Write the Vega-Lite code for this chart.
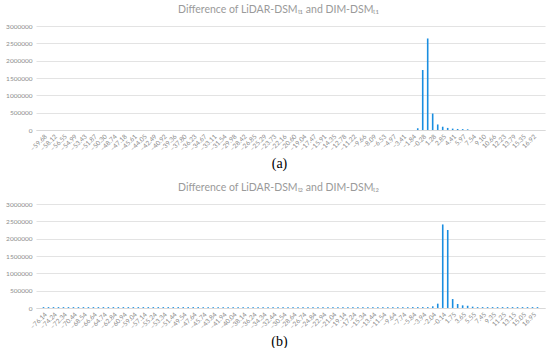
{
  "$schema": "https://vega.github.io/schema/vega-lite/v6.json",
  "background": "white",
  "padding": {"left": 5, "top": 4, "right": 6, "bottom": 0},
  "config": {
    "view": {"stroke": null},
    "concat": {"spacing": 12},
    "axis": {
      "labelFont": "Lato", "labelFontSize": 6.5, "labelColor": "#8c8c8c",
      "ticks": false, "gridColor": "#e3e3e3", "gridWidth": 1,
      "domainColor": "#d9d9d9"
    },
    "title": {"font": "Lato", "fontSize": 10.5, "fontWeight": "normal", "color": "#9a9a9a"}
  },
  "datasets": {
    "a": [
      {"d": -1.06, "n": 50000},
      {"d": -0.28, "n": 1730000},
      {"d": 0.50, "n": 2640000},
      {"d": 1.28, "n": 475000},
      {"d": 2.07, "n": 160000},
      {"d": 2.85, "n": 95000},
      {"d": 3.63, "n": 60000},
      {"d": 4.41, "n": 40000},
      {"d": 5.19, "n": 30000},
      {"d": 5.98, "n": 25000},
      {"d": 6.76, "n": 20000}
    ],
    "b": [
      {"d": -76.14, "n": 25000}, {"d": -75.19, "n": 25000}, {"d": -74.24, "n": 25000}, {"d": -73.29, "n": 25000},
      {"d": -72.34, "n": 25000}, {"d": -71.39, "n": 25000}, {"d": -70.44, "n": 25000}, {"d": -69.49, "n": 25000},
      {"d": -68.54, "n": 25000}, {"d": -67.59, "n": 25000}, {"d": -66.64, "n": 25000}, {"d": -65.69, "n": 25000},
      {"d": -64.74, "n": 25000}, {"d": -63.79, "n": 25000}, {"d": -62.84, "n": 25000}, {"d": -61.89, "n": 25000},
      {"d": -60.94, "n": 25000}, {"d": -59.99, "n": 25000}, {"d": -59.04, "n": 25000}, {"d": -58.09, "n": 25000},
      {"d": -57.14, "n": 25000}, {"d": -56.19, "n": 25000}, {"d": -55.24, "n": 25000}, {"d": -54.29, "n": 25000},
      {"d": -53.34, "n": 25000}, {"d": -52.39, "n": 25000}, {"d": -51.44, "n": 25000}, {"d": -50.49, "n": 25000},
      {"d": -49.54, "n": 25000}, {"d": -48.59, "n": 25000}, {"d": -47.64, "n": 25000}, {"d": -46.69, "n": 25000},
      {"d": -45.74, "n": 25000}, {"d": -44.79, "n": 25000}, {"d": -43.84, "n": 25000}, {"d": -42.89, "n": 25000},
      {"d": -41.94, "n": 25000}, {"d": -40.99, "n": 25000}, {"d": -40.04, "n": 25000}, {"d": -39.09, "n": 25000},
      {"d": -38.14, "n": 25000}, {"d": -37.19, "n": 25000}, {"d": -36.24, "n": 25000}, {"d": -35.29, "n": 25000},
      {"d": -34.34, "n": 25000}, {"d": -33.39, "n": 25000}, {"d": -32.44, "n": 25000}, {"d": -31.49, "n": 25000},
      {"d": -30.54, "n": 25000}, {"d": -29.59, "n": 25000}, {"d": -28.64, "n": 25000}, {"d": -27.69, "n": 25000},
      {"d": -26.74, "n": 25000}, {"d": -25.79, "n": 25000}, {"d": -24.84, "n": 25000}, {"d": -23.89, "n": 25000},
      {"d": -22.94, "n": 25000}, {"d": -21.99, "n": 25000}, {"d": -21.04, "n": 25000}, {"d": -20.09, "n": 25000},
      {"d": -19.14, "n": 25000}, {"d": -18.19, "n": 25000}, {"d": -17.24, "n": 25000}, {"d": -16.29, "n": 25000},
      {"d": -15.34, "n": 25000}, {"d": -14.39, "n": 25000}, {"d": -13.44, "n": 25000}, {"d": -12.49, "n": 25000},
      {"d": -11.54, "n": 25000}, {"d": -10.59, "n": 25000}, {"d": -9.64, "n": 25000}, {"d": -8.69, "n": 25000},
      {"d": -7.74, "n": 25000}, {"d": -6.79, "n": 25000}, {"d": -5.84, "n": 25000}, {"d": -4.89, "n": 25000},
      {"d": -3.94, "n": 25000}, {"d": -2.99, "n": 25000}, {"d": -2.04, "n": 48000}, {"d": -1.09, "n": 125000},
      {"d": -0.14, "n": 2410000}, {"d": 0.81, "n": 2250000}, {"d": 1.75, "n": 258000}, {"d": 2.70, "n": 115000},
      {"d": 3.65, "n": 76000}, {"d": 4.60, "n": 65000}, {"d": 5.55, "n": 38000}, {"d": 6.50, "n": 25000},
      {"d": 7.45, "n": 25000}, {"d": 8.40, "n": 25000}, {"d": 9.35, "n": 25000}, {"d": 10.30, "n": 25000},
      {"d": 11.25, "n": 25000}, {"d": 12.20, "n": 25000}, {"d": 13.15, "n": 25000}, {"d": 14.10, "n": 25000},
      {"d": 15.05, "n": 25000}, {"d": 16.00, "n": 25000}, {"d": 16.95, "n": 25000}, {"d": 17.90, "n": 25000}
    ]
  },
  "vconcat": [
    {
      "width": 509, "height": 104,
      "data": {"name": "a"},
      "title": {"text": "Difference of LiDAR-DSMₜ₁ and DIM-DSMₜ₁", "anchor": "middle", "dx": -12, "offset": 8},
      "mark": {"type": "bar", "size": 1.6, "color": "#1a8ee0"},
      "encoding": {
        "x": {
          "field": "d", "type": "quantitative",
          "scale": {"domain": [-60.07, 18.09], "nice": false, "zero": false},
          "axis": {
            "title": "(a)", "titleFont": "Liberation Serif", "titleFontSize": 14, "titleFontWeight": "normal",
            "titleColor": "#000000", "titleX": 243, "titleY": 37, "titleBaseline": "alphabetic",
            "grid": false, "labelAngle": -45, "labelOverlap": false, "labelFlush": false, "format": ".2f", "labelPadding": 3,
            "values": [-59.68, -58.12, -56.55, -54.99, -53.43, -51.87, -50.30, -48.74, -47.18, -45.61, -44.05, -42.49, -40.92, -39.36, -37.80, -36.23, -34.67, -33.11, -31.54, -29.98, -28.42, -26.85, -25.29, -23.73, -22.16, -20.60, -19.04, -17.47, -15.91, -14.35, -12.78, -11.22, -9.66, -8.09, -6.53, -4.97, -3.41, -1.84, -0.28, 1.28, 2.85, 4.41, 5.97, 7.54, 9.10, 10.66, 12.23, 13.79, 15.35, 16.92]
          }
        },
        "y": {
          "field": "n", "type": "quantitative",
          "scale": {"domain": [0, 3000000], "nice": false},
          "axis": {"title": null, "values": [0, 500000, 1000000, 1500000, 2000000, 2500000, 3000000], "format": "d", "domain": false, "labelPadding": 4}
        }
      }
    },
    {
      "width": 509, "height": 104,
      "data": {"name": "b"},
      "title": {"text": "Difference of LiDAR-DSMₜ₂ and DIM-DSMₜ₂", "anchor": "middle", "dx": -12, "offset": 8},
      "mark": {"type": "bar", "size": 1.6, "color": "#1a8ee0"},
      "encoding": {
        "x": {
          "field": "d", "type": "quantitative",
          "scale": {"domain": [-76.615, 18.375], "nice": false, "zero": false},
          "axis": {
            "title": "(b)", "titleFont": "Liberation Serif", "titleFontSize": 14, "titleFontWeight": "normal",
            "titleColor": "#000000", "titleX": 243, "titleY": 37, "titleBaseline": "alphabetic",
            "grid": false, "labelAngle": -45, "labelOverlap": false, "labelFlush": false, "format": ".2f", "labelPadding": 3,
            "values": [-76.14, -74.24, -72.34, -70.44, -68.54, -66.64, -64.74, -62.84, -60.94, -59.04, -57.14, -55.24, -53.34, -51.44, -49.54, -47.64, -45.74, -43.84, -41.94, -40.04, -38.14, -36.24, -34.34, -32.44, -30.54, -28.64, -26.74, -24.84, -22.94, -21.04, -19.14, -17.24, -15.34, -13.44, -11.54, -9.64, -7.74, -5.84, -3.94, -2.04, -0.14, 1.75, 3.65, 5.55, 7.45, 9.35, 11.25, 13.15, 15.05, 16.95]
          }
        },
        "y": {
          "field": "n", "type": "quantitative",
          "scale": {"domain": [0, 3000000], "nice": false},
          "axis": {"title": null, "values": [0, 500000, 1000000, 1500000, 2000000, 2500000, 3000000], "format": "d", "domain": false, "labelPadding": 4}
        }
      }
    }
  ]
}
